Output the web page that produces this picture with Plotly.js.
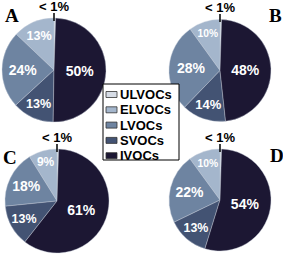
<!DOCTYPE html>
<html>
<head>
<meta charset="utf-8">
<script src="https://cdn.plot.ly/plotly-3.0.1.min.js"></script>
<style>html,body{margin:0;padding:0;background:#fff;}#chart{width:283px;height:255px;}</style>
</head>
<body>
<div id="chart"></div>
<script>
// Categories (legend order, top to bottom)
var categories = ["ULVOCs", "ELVOCs", "LVOCs", "SVOCs", "IVOCs"];
// Panel names
var panels = ["A", "B", "C", "D"];
// Percent values per panel, in category order (ULVOCs is "< 1%")
var valuesA = [0.5, 13, 24, 13, 50];
var valuesB = [0.5, 10, 28, 14, 48];
var valuesC = [0.5, 9, 18, 13, 61];
var valuesD = [0.5, 10, 22, 13, 54];
var smallLabel = "< 1%";

var W = 283, H = 255;
function px(x) { return x / W; }
function py(y) { return 1 - y / H; }

var colors = ["#d6dce6", "#a4b6cc", "#6e84a1", "#435373", "#1c1733"];
var allValues = [valuesA, valuesB, valuesC, valuesD];
var domains = [
  {x: [px(2), px(106)], y: [py(122), py(18)]},
  {x: [px(169), px(271)], y: [py(122), py(19)]},
  {x: [px(5), px(109)], y: [py(253), py(149)]},
  {x: [px(169), px(271)], y: [py(251), py(149)]}
];

var traces = allValues.map(function (vals, i) {
  return {
    type: "pie",
    labels: categories,
    values: vals,
    text: vals.map(function (v) { return v >= 1 ? v + "%" : ""; }),
    textinfo: "text",
    textposition: "inside",
    insidetextorientation: "horizontal",
    sort: false,
    direction: "counterclockwise",
    rotation: 0,
    marker: {colors: colors, line: {color: "#c8d0dc", width: 0.4}},
    textfont: {family: "Arial, Liberation Sans, sans-serif", size: 14, color: "#ffffff", weight: "bold"},
    domain: domains[i],
    showlegend: false,
    hoverinfo: "none"
  };
});

var annotations = [];
var shapes = [];
// Panel letters
var letterPos = [[12, 15], [275, 15], [10, 157], [277, 155]];
panels.forEach(function (p, i) {
  annotations.push({
    xref: "paper", yref: "paper", x: px(letterPos[i][0]), y: py(letterPos[i][1]),
    text: "<b>" + p + "</b>", showarrow: false,
    font: {family: "Times New Roman, Liberation Serif, serif", size: 19, color: "#000"},
    xanchor: "center", yanchor: "middle"
  });
});
// "< 1%" callouts at the top of each pie, with a short tick line
domains.forEach(function (d) {
  var cx = (d.x[0] + d.x[1]) / 2;
  var topPx = (1 - d.y[1]) * H;
  annotations.push({
    xref: "paper", yref: "paper",
    x: cx, y: py(topPx - 11.5), xanchor: "center", yanchor: "middle",
    text: "<b>" + smallLabel + "</b>", showarrow: false,
    font: {family: "Arial, Liberation Sans, sans-serif", size: 13, color: "#000"}
  });
  shapes.push({
    type: "line", xref: "paper", yref: "paper",
    x0: cx, x1: cx, y0: py(topPx - 5), y1: py(topPx + 3),
    line: {color: "#000", width: 1.5}, layer: "above"
  });
});

// Legend box (drawn from the categories and colours)
shapes.push({
  type: "rect", xref: "paper", yref: "paper",
  x0: px(103), x1: px(179), y0: py(160), y1: py(84),
  line: {color: "#000", width: 1}, fillcolor: "#ffffff", layer: "above"
});
categories.forEach(function (c, i) {
  var yc = 94.5 + i * 15.3;
  shapes.push({
    type: "rect", xref: "paper", yref: "paper",
    x0: px(106), x1: px(117), y0: py(yc + 3), y1: py(yc - 3),
    line: {color: "#333", width: 0.8}, fillcolor: colors[i], layer: "above"
  });
  annotations.push({
    xref: "paper", yref: "paper", x: px(117.5), y: py(yc),
    xanchor: "left", yanchor: "middle", showarrow: false,
    text: "<b>" + c + "</b>",
    font: {family: "Arial, Liberation Sans, sans-serif", size: 13, color: "#000"}
  });
});

var layout = {
  width: W, height: H,
  margin: {l: 0, r: 0, t: 0, b: 0},
  paper_bgcolor: "#ffffff",
  showlegend: false,
  shapes: shapes,
  annotations: annotations
};

Plotly.newPlot("chart", traces, layout, {displayModeBar: false, staticPlot: true});
</script>
</body>
</html>
